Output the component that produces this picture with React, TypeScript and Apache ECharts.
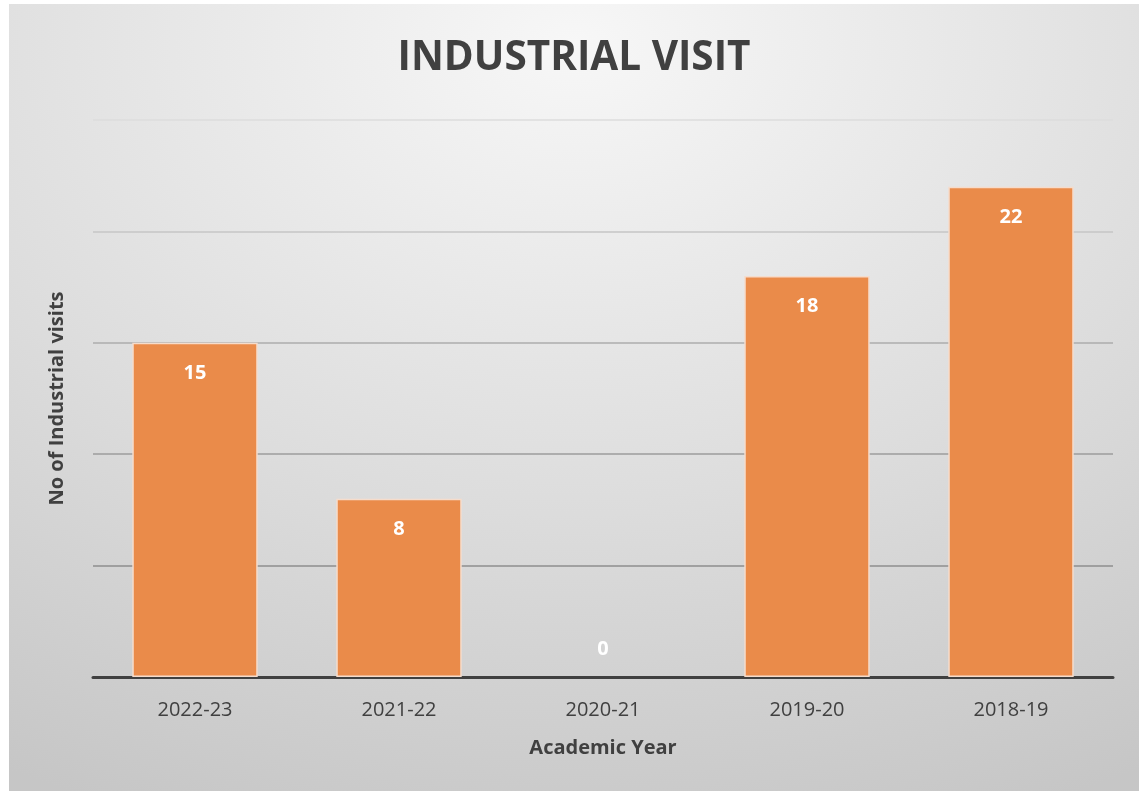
import React, { useEffect, useRef } from "react";
import * as echarts from "echarts";

const categories = ["2022-23", "2021-22", "2020-21", "2019-20", "2018-19"];
const visits = [15, 8, 0, 18, 22];
const yMax = 25;
const yInterval = 5;

export default function App() {
  const ref = useRef<HTMLDivElement>(null);
  useEffect(() => {
    if (!ref.current) return;
    const chart = echarts.init(ref.current, undefined, { renderer: "svg" });
    const font = "'Open Sans', 'Noto Sans', sans-serif";
    chart.setOption({
      animation: false,
      backgroundColor: {
        type: "radial",
        x: 0.5,
        y: 0.05,
        r: 1.05,
        colorStops: [
          { offset: 0, color: "#f7f7f7" },
          { offset: 0.55, color: "#dddddd" },
          { offset: 1, color: "#c6c6c6" },
        ],
      },
      title: {
        text: "INDUSTRIAL VISIT",
        left: "center",
        top: 25,
        textStyle: {
          fontFamily: font,
          fontWeight: "bold",
          fontSize: 40.5,
          color: "#404040",
        },
      },
      grid: { left: 84, right: 26, top: 116, bottom: 114 },
      xAxis: {
        type: "category",
        data: categories,
        name: "Academic Year",
        nameLocation: "middle",
        nameGap: 59,
        nameTextStyle: {
          fontFamily: font,
          fontWeight: "bold",
          fontSize: 20,
          color: "#404040",
        },
        axisLine: { show: true, lineStyle: { color: "#404040", width: 3 } },
        axisTick: { show: false },
        axisLabel: {
          fontFamily: font,
          fontSize: 20,
          color: "#404040",
          margin: 21,
        },
      },
      yAxis: {
        type: "value",
        min: 0,
        max: yMax,
        interval: yInterval,
        name: "No of Industrial visits",
        nameLocation: "middle",
        nameGap: 28,
        nameTextStyle: {
          fontFamily: font,
          fontWeight: "bold",
          fontSize: 20,
          color: "#404040",
        },
        axisLabel: { show: false },
        axisLine: { show: false },
        axisTick: { show: false },
        splitLine: {
          show: true,
          lineStyle: {
            width: 1.5,
            color: ["#888888", "#8e8e8e", "#9c9c9c", "#adadad", "#c6c6c6", "#dddddd"],
          },
        },
      },
      series: [
        {
          type: "bar",
          data: visits.map((v) =>
            v === 0
              ? {
                  value: v,
                  itemStyle: { borderWidth: 0 },
                  label: { position: "insideBottom", distance: 20 },
                }
              : v
          ),
          barWidth: "61.5%",
          itemStyle: {
            color: "#ea8b4a",
            borderColor: "#f6dccb",
            borderWidth: 1.5,
          },
          label: {
            show: true,
            position: "insideTop",
            distance: 19,
            fontFamily: font,
            fontWeight: "bold",
            fontSize: 20,
            color: "#ffffff",
          },
        },
      ],
    });
    return () => chart.dispose();
  }, []);
  return (
    <div
      ref={ref}
      style={{ position: "fixed", left: 9, top: 4, width: 1130, height: 787 }}
    />
  );
}
